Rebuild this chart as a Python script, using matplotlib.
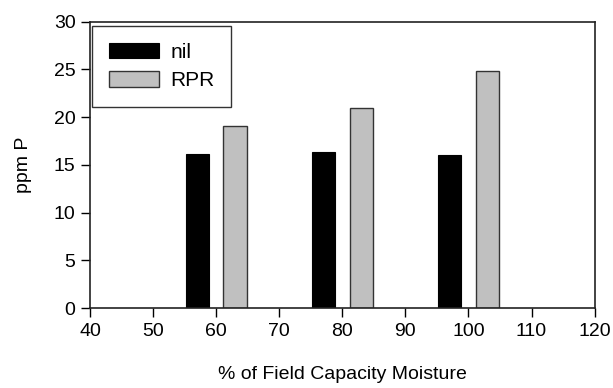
import matplotlib
matplotlib.use("Agg")
import matplotlib.pyplot as plt
import numpy as np

# data
moisture = [60, 80, 100]
nil = [16.1, 16.4, 16.0]
rpr = [19.1, 21.0, 24.8]
series_names = ["nil", "RPR"]


def main():
    plt.rcParams['font.family'] = ['Liberation Sans', 'DejaVu Sans']
    fig = plt.figure(figsize=(6.13, 3.88), dpi=100)
    ax = fig.add_axes([0.147, 0.206, 0.823, 0.738])

    x = np.array(moisture, dtype=float)
    ax.bar(x - 3, nil, width=3.7, color="black", edgecolor="black",
           linewidth=0.8, label=series_names[0])
    ax.bar(x + 3, rpr, width=3.7, color="#c0c0c0", edgecolor="#333333",
           linewidth=1.0, label=series_names[1])

    ax.set_xlim(40, 120)
    ax.set_ylim(0, 30)
    ax.set_xticks(range(40, 121, 10))
    ax.set_yticks(range(0, 31, 5))
    ax.tick_params(direction="out", length=6.5, width=1, labelsize=14,
                   pad=4, top=False, right=False)
    for s in ax.spines.values():
        s.set_linewidth(1.2)
        s.set_color("#222222")

    ax.set_xlabel("% of Field Capacity Moisture", fontsize=14, labelpad=19)
    ax.set_ylabel("ppm P", fontsize=14, labelpad=16)

    leg = ax.legend(loc="upper left", bbox_to_anchor=(92 / 613, 1 - 26 / 388),
                    bbox_transform=fig.transFigure, borderaxespad=0,
                    fancybox=False, frameon=True, fontsize=15,
                    handlelength=2.4, handleheight=0.78, handletextpad=0.55,
                    labelspacing=0.45, borderpad=0.8)
    leg.get_frame().set_edgecolor("black")
    leg.get_frame().set_linewidth(1.0)

    fig.savefig("out.png", dpi=100)


if __name__ == "__main__":
    main()
